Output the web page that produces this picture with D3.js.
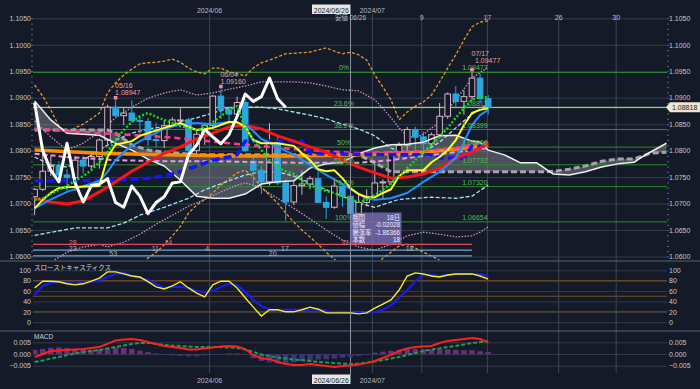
<!DOCTYPE html>
<html>
<head>
<meta charset="utf-8">
<script src="https://cdnjs.cloudflare.com/ajax/libs/d3/7.8.5/d3.min.js"></script>
<style>
  body { margin: 0; background: #141a28; }
  svg { display: block; }
  text { font-family: "Liberation Sans", "Noto Sans CJK JP", sans-serif; }
</style>
</head>
<body>
<div id="chart"></div>
<script>
// ---- data (bar index 0 = first candle) ----
var opens = [1.0713,1.0727,1.0761,1.0770,1.0754,1.0749,1.0782,1.0771,1.0789,1.0820,1.0882,1.0866,1.0871,1.0857,1.0855,1.0821,1.0819,1.0847,1.0858,1.0858,1.0800,1.0831,1.0848,1.0903,1.0877,1.0869,1.0891,1.0780,1.0763,1.0741,1.0814,1.0739,1.0703,1.0734,1.0737,1.0747,1.0702,1.0693,1.0733,1.0714,1.0681,1.0702,1.0713,1.0739,1.0741,1.0792,1.0810,1.0840,1.0826,1.0813,1.0830,1.0865,1.0907,1.0893,1.0902,1.0937,1.0898];
var highs = [1.0729,1.0812,1.0790,1.0780,1.0765,1.0790,1.0790,1.0798,1.0823,1.0887,1.0895,1.0882,1.0895,1.0866,1.0862,1.0853,1.0858,1.0863,1.0880,1.0862,1.0838,1.0852,1.0905,1.0916,1.0882,1.0902,1.0897,1.0790,1.0771,1.0852,1.0826,1.0746,1.0742,1.0762,1.0752,1.0760,1.0714,1.0748,1.0737,1.0721,1.0720,1.0727,1.0776,1.0746,1.0799,1.0816,1.0845,1.0845,1.0836,1.0834,1.0890,1.0910,1.0922,1.0914,1.0948,1.0945,1.0905];
var lows = [1.0678,1.0724,1.0752,1.0747,1.0724,1.0724,1.0757,1.0765,1.0766,1.0812,1.0862,1.0848,1.0853,1.0832,1.0809,1.0806,1.0805,1.0846,1.0846,1.0789,1.0788,1.0811,1.0841,1.0860,1.0852,1.0860,1.0797,1.0732,1.0718,1.0734,1.0735,1.0668,1.0697,1.0717,1.0727,1.0701,1.0671,1.0690,1.0694,1.0666,1.0678,1.0695,1.0709,1.0710,1.0735,1.0785,1.0796,1.0790,1.0797,1.0806,1.0827,1.0860,1.0880,1.0868,1.0895,1.0889,1.0868];
var closes = [1.0727,1.0761,1.0770,1.0754,1.0749,1.0782,1.0771,1.0789,1.0820,1.0882,1.0866,1.0871,1.0857,1.0855,1.0821,1.0819,1.0847,1.0858,1.0858,1.0800,1.0831,1.0848,1.0903,1.0877,1.0869,1.0891,1.0800,1.0763,1.0741,1.0814,1.0739,1.0703,1.0734,1.0737,1.0747,1.0702,1.0693,1.0733,1.0714,1.0681,1.0702,1.0713,1.0739,1.0741,1.0792,1.0810,1.0840,1.0826,1.0813,1.0830,1.0865,1.0907,1.0893,1.0902,1.0937,1.0898,1.0882];

// lines as [bar index, price]
var tenkanLine = [[0,1.0691],[1,1.0707],[2,1.0720],[3,1.0729],[4,1.0731],[8,1.0733],[9,1.0788],[10,1.0811],[12,1.0818],[13,1.0828],[14,1.0833],[16,1.0843],[18,1.0852],[19,1.0845],[20,1.0839],[22,1.0843],[24,1.0854],[25,1.0854],[26,1.0845],[27,1.0820],[28,1.0814],[30,1.0814],[32,1.0809],[33,1.0795],[34,1.0782],[35,1.0765],[36,1.0761],[37,1.0763],[38,1.0748],[39,1.0729],[40,1.0718],[41,1.0712],[42,1.0712],[43,1.0720],[44,1.0727],[45,1.0752],[46,1.0763],[48,1.0763],[49,1.0778],[50,1.0788],[51,1.0801],[52,1.0820],[53,1.0848],[54,1.0871],[55,1.0877],[56,1.0880]];
var blueLine = [[0,1.0691],[2,1.0708],[4,1.0722],[6,1.0733],[8,1.0743],[9,1.0760],[10,1.0782],[11,1.0797],[12,1.0809],[14,1.0826],[16,1.0841],[18,1.0850],[20,1.0852],[22,1.0850],[24,1.0854],[26,1.0850],[27,1.0837],[28,1.0822],[30,1.0807],[32,1.0792],[34,1.0773],[36,1.0754],[38,1.0737],[40,1.0718],[41,1.0710],[42,1.0707],[44,1.0710],[46,1.0720],[48,1.0741],[50,1.0760],[52,1.0786],[53,1.0816],[54,1.0848],[55,1.0867],[56,1.0877]];
var redLine = [[0,1.0710],[2,1.0703],[4,1.0699],[6,1.0705],[8,1.0722],[10,1.0741],[12,1.0761],[14,1.0778],[16,1.0795],[18,1.0807],[20,1.0822],[22,1.0833],[24,1.0845],[26,1.0848],[28,1.0841],[30,1.0828],[32,1.0818],[34,1.0807],[36,1.0797],[38,1.0782],[40,1.0769],[42,1.0758],[44,1.0748],[46,1.0750],[48,1.0756],[50,1.0767],[52,1.0786],[54,1.0797],[56,1.0814]];
var orangeLine = [[0,1.0801],[8,1.0795],[16,1.0792],[24,1.0790],[32,1.0790],[40,1.0792],[48,1.0797],[52,1.0803],[56,1.0811]];
var magentaLine = [[0,1.0841],[8,1.0833],[16,1.0826],[24,1.0814],[32,1.0803],[40,1.0795],[48,1.0799],[52,1.0805],[56,1.0816]];
var lavenderLine = [[0,1.0794],[4,1.0788],[10,1.0782],[16,1.0780],[22,1.0780],[28,1.0778],[34,1.0777],[40,1.0777],[44,1.0782],[48,1.0790],[52,1.0797],[56,1.0805]];
var kijunLine = [[0,1.0743],[10,1.0744],[14,1.0748],[16,1.0752],[18,1.0760],[20,1.0771],[22,1.0782],[24,1.0788],[25,1.0792],[26,1.0818],[33,1.0818],[34,1.0794],[49,1.0792],[50,1.0786],[53,1.0786],[54,1.0809],[56,1.0809]];
var spanA = [[0,1.0894],[2,1.0858],[4,1.0833],[6,1.0831],[8,1.0829],[10,1.0814],[12,1.0801],[14,1.0784],[16,1.0771],[18,1.0744],[20,1.0714],[22,1.0710],[24,1.0710],[26,1.0718],[28,1.0737],[30,1.0741],[32,1.0743],[34,1.0767],[36,1.0775],[38,1.0778],[40,1.0794],[42,1.0805],[44,1.0811],[46,1.0812],[48,1.0816],[50,1.0828],[52,1.0829],[54,1.0818],[55,1.0816],[56,1.0801],[58,1.0792],[60,1.0777],[62,1.0777],[64,1.0756],[66,1.0754],[68,1.0760],[70,1.0769],[72,1.0775],[74,1.0778],[75,1.0788],[76,1.0797],[78,1.0814]];
var spanB = [[0,1.0839],[9,1.0839],[10,1.0833],[12,1.0811],[14,1.0801],[16,1.0797],[18,1.0795],[20,1.0792],[40,1.0792],[42,1.0777],[44,1.0760],[63,1.0760],[64,1.0761],[66,1.0765],[68,1.0771],[70,1.0780],[72,1.0784],[74,1.0784],[76,1.0795],[78,1.0797]];
var laggingSpan = [1.0891,1.0800,1.0763,1.0741,1.0814,1.0739,1.0703,1.0734,1.0737,1.0747,1.0702,1.0693,1.0733,1.0714,1.0681,1.0702,1.0713,1.0739,1.0741,1.0792,1.0810,1.0840,1.0826,1.0813,1.0830,1.0865,1.0907,1.0893,1.0902,1.0937,1.0898,1.0882];
var sarValues = [1.0707,1.0710,1.0718,1.0726,1.0733,1.0743,1.0752,1.0763,1.0778,1.0797,1.0820,1.0839,1.0854,1.0865,1.0871,1.0864,1.0858,1.0852,1.0846,1.0843,1.0839,1.0843,1.0854,1.0865,1.0877,1.0884,1.0843,1.0820,1.0801,1.0782,1.0769,1.0761,1.0756,1.0744,1.0735,1.0729,1.0724,1.0720,1.0714,1.0708,1.0703,1.0707,1.0716,1.0726,1.0739,1.0752,1.0767,1.0782,1.0797,1.0811,1.0826,1.0843,1.0862,1.0880,1.0896,1.0901,1.0901];

var bandUp3 = [[0,1.0924],[1,1.0903],[2,1.0877],[3,1.0846],[4,1.0833],[5,1.0843],[6,1.0850],[7,1.0860],[8,1.0871],[9,1.0909],[10,1.0928],[11,1.0943],[12,1.0954],[13,1.0964],[14,1.0966],[15,1.0967],[16,1.0969],[17,1.0973],[18,1.0967],[19,1.0956],[20,1.0949],[21,1.0945],[22,1.0956],[23,1.0956],[24,1.0949],[25,1.0945],[26,1.0941],[27,1.0956],[28,1.0966],[29,1.0971],[30,1.0977],[31,1.0983],[32,1.0984],[34,1.0986],[35,1.0990],[36,1.0994],[37,1.0988],[38,1.0983],[39,1.0986],[40,1.0981],[41,1.0971],[42,1.0943],[43,1.0920],[44,1.0896],[45,1.0858],[46,1.0873],[47,1.0884],[48,1.0892],[49,1.0905],[50,1.0930],[51,1.0956],[52,1.0981],[53,1.1009],[54,1.1034],[55,1.1043],[56,1.1045]];
var bandLo3 = [[12,1.0571],[13,1.0584],[14,1.0597],[15,1.0608],[16,1.0622],[17,1.0639],[18,1.0657],[19,1.0682],[20,1.0697],[21,1.0708],[22,1.0720],[23,1.0735],[24,1.0746],[25,1.0758],[26,1.0763],[27,1.0750],[28,1.0731],[29,1.0716],[30,1.0701],[31,1.0682],[32,1.0665],[33,1.0650],[34,1.0637],[35,1.0623],[36,1.0608],[37,1.0595],[38,1.0582],[39,1.0571],[40,1.0563],[41,1.0563],[42,1.0578],[43,1.0597],[44,1.0608],[45,1.0620],[46,1.0623],[47,1.0616],[48,1.0608],[49,1.0601],[50,1.0593],[52,1.0574],[54,1.0555],[56,1.0540]];
var bandUp2 = [[0,1.0856],[2,1.0826],[4,1.0801],[6,1.0814],[8,1.0835],[10,1.0862],[12,1.0882],[14,1.0899],[16,1.0909],[18,1.0915],[20,1.0905],[22,1.0909],[24,1.0916],[26,1.0922],[28,1.0930],[32,1.0930],[34,1.0928],[36,1.0922],[38,1.0915],[40,1.0913],[42,1.0896],[43,1.0880],[44,1.0862],[45,1.0843],[46,1.0828],[47,1.0824],[48,1.0831],[50,1.0854],[51,1.0877],[52,1.0896],[54,1.0937],[56,1.0958]];
var bandLo2 = [[0,1.0584],[2,1.0589],[4,1.0608],[6,1.0618],[8,1.0623],[9,1.0618],[11,1.0627],[13,1.0642],[15,1.0661],[17,1.0678],[19,1.0695],[21,1.0708],[23,1.0722],[25,1.0735],[26,1.0739],[27,1.0735],[28,1.0729],[30,1.0710],[32,1.0691],[34,1.0671],[36,1.0650],[38,1.0631],[40,1.0618],[42,1.0612],[44,1.0623],[46,1.0639],[48,1.0646],[50,1.0642],[52,1.0637],[54,1.0639],[55,1.0646],[56,1.0656]];
var bandUp1 = [[0,1.0788],[2,1.0773],[4,1.0769],[6,1.0782],[8,1.0801],[10,1.0820],[12,1.0833],[14,1.0841],[16,1.0845],[18,1.0854],[20,1.0862],[22,1.0871],[24,1.0880],[26,1.0882],[28,1.0882],[30,1.0879],[32,1.0873],[34,1.0867],[36,1.0860],[38,1.0850],[40,1.0841],[42,1.0828],[44,1.0805],[46,1.0792],[48,1.0797],[50,1.0816],[52,1.0843],[54,1.0869],[56,1.0888]];
var bandLo1 = [[0,1.0640],[5,1.0654],[9,1.0654],[11,1.0663],[13,1.0678],[16,1.0693],[19,1.0710],[21,1.0726],[24,1.0743],[26,1.0754],[28,1.0760],[30,1.0760],[32,1.0752],[34,1.0739],[36,1.0726],[38,1.0714],[40,1.0701],[42,1.0693],[45,1.0708],[49,1.0712],[52,1.0710],[54,1.0714],[56,1.0735]];

var fibNames = ["0%", "23.6%", "38.2%", "50%", "61.8%", "76.4%", "100%"];
var fibLevels = [1.09477, 1.08811, 1.08399, 1.08066, 1.07732, 1.07320, 1.06654];

var markIdx = [10, 23, 54];
var markDates = ["05/16", "06/04", "07/17"];
var markValues = [1.08947, 1.09160, 1.09477];

var countLabels = ["28", "14", "32", "23", "11", "4", "17", "18", "53", "20"];
var countIdx = [4.7, 16.5, 38.3, 4.7, 14.9, 21.3, 30.9, 46.3, 9.7, 29.4];
var countRow = [0, 0, 0, 1, 1, 1, 1, 1, 2, 2];
var countLevels = [1.0623, 1.0612, 1.0601];

var stochK = [66,79,79,78,74,72,74,79,85,97,97,93,89,87,78,68,64,70,78,66,56,49,72,79,79,66,47,29,12,24,24,20,20,24,29,25,18,18,18,18,16,18,27,35,43,62,89,95,93,89,87,91,93,93,93,89,83];
var stochD = [52,70,76,78,76,74,76,78,81,87,93,95,89,85,81,74,66,68,68,66,60,58,60,68,74,72,58,43,31,25,22,24,24,24,24,25,22,18,18,18,18,18,20,24,33,47,62,79,91,91,89,91,93,93,93,93,89];

var macdLine = [-0.0013,0.0000,0.0013,0.0015,0.0017,0.0019,0.0021,0.0026,0.0030,0.0043,0.0058,0.0062,0.0064,0.0060,0.0051,0.0043,0.0034,0.0030,0.0026,0.0019,0.0019,0.0024,0.0028,0.0032,0.0034,0.0032,0.0021,-0.0004,-0.0019,-0.0021,-0.0034,-0.0043,-0.0047,-0.0047,-0.0043,-0.0047,-0.0051,-0.0056,-0.0051,-0.0049,-0.0045,-0.0039,-0.0030,-0.0017,-0.0004,0.0013,0.0024,0.0030,0.0032,0.0034,0.0047,0.0056,0.0060,0.0064,0.0068,0.0064,0.0051];
var signalLine = [-0.0034,-0.0028,-0.0019,-0.0013,-0.0004,0.0002,0.0009,0.0013,0.0017,0.0024,0.0030,0.0036,0.0043,0.0047,0.0047,0.0043,0.0039,0.0036,0.0034,0.0032,0.0030,0.0030,0.0030,0.0030,0.0028,0.0026,0.0019,0.0009,-0.0002,-0.0009,-0.0015,-0.0019,-0.0024,-0.0026,-0.0030,-0.0034,-0.0036,-0.0039,-0.0041,-0.0043,-0.0041,-0.0036,-0.0032,-0.0026,-0.0019,-0.0013,-0.0004,0.0004,0.0013,0.0019,0.0024,0.0030,0.0034,0.0041,0.0047,0.0051,0.0053];
var macdHist = [0.0018,0.0022,0.0026,0.0028,0.0026,0.0022,0.0020,0.0018,0.0020,0.0024,0.0028,0.0026,0.0022,0.0014,0.0008,0.0002,-0.0004,-0.0006,-0.0008,-0.0010,-0.0010,-0.0006,-0.0004,-0.0002,0.0002,0.0002,-0.0002,-0.0018,-0.0030,-0.0036,-0.0040,-0.0040,-0.0036,-0.0032,-0.0028,-0.0024,-0.0022,-0.0020,-0.0016,-0.0012,-0.0008,-0.0004,0.0006,0.0010,0.0014,0.0018,0.0022,0.0022,0.0020,0.0018,0.0020,0.0020,0.0018,0.0016,0.0016,0.0012,0.0008];

var priceTicks = [1.060, 1.065, 1.070, 1.075, 1.080, 1.085, 1.090, 1.095, 1.100, 1.105];
var stochTicks = [0, 20, 40, 60, 80, 100];
var stochLevels = [20, 50, 80];
var macdTicks = [-0.005, 0, 0.005];
var dateTickIdx = [21.6, 41.7, 47.8, 55.9, 64.7, 71.8];
var dateTickLabels = ["2024/06", "2024/07", "9", "17", "26", "30"];
var lastPrice = 1.08818;
var crossIdx = 39;

// Step 1: set up the svg
var svgWidth = 700, svgHeight = 389;
var plotLeft = 33, plotRight = 667;
var bg = "#141a28";

var svg = d3.select("#chart").append("svg")
  .attr("width", svgWidth)
  .attr("height", svgHeight);
svg.append("rect").attr("width", svgWidth).attr("height", svgHeight).attr("fill", bg);

// Step 2: scales
var x = d3.scaleLinear().domain([0, 56]).range([34.6, 488.2]);
var y = d3.scaleLinear().domain([1.06, 1.105]).range([256.5, 18.3]);
var yS = d3.scaleLinear().domain([0, 100]).range([322.2, 270.3]);
var yM = d3.scaleLinear().domain([-0.005, 0.005]).range([365.7, 342.3]);

svg.append("clipPath").attr("id", "mainClip")
  .append("rect").attr("x", plotLeft).attr("y", 12).attr("width", plotRight - plotLeft).attr("height", 248);
svg.append("clipPath").attr("id", "macdClip")
  .append("rect").attr("x", plotLeft).attr("y", 332).attr("width", plotRight - plotLeft).attr("height", 40);

// Step 3: grid lines through axes
function styleAxis(g, color) {
  g.select(".domain").remove();
  g.selectAll("line").attr("stroke", color);
  g.selectAll("text").attr("fill", "#c4c8d0").attr("font-size", "7px")
    .attr("font-family", "Liberation Sans, sans-serif");
}
function hGrid(scale, ticks) {
  svg.append("g").attr("transform", `translate(${plotLeft},0)`)
    .call(d3.axisLeft(scale).tickValues(ticks).tickSize(-(plotRight - plotLeft)).tickFormat(""))
    .call(g => styleAxis(g, "#323a4a"));
}
hGrid(y, priceTicks);
hGrid(yS, stochTicks);
hGrid(yM, macdTicks);

// stochastic reference levels
svg.append("g").selectAll("line").data(stochLevels).enter().append("line")
  .attr("x1", plotLeft).attr("x2", plotRight)
  .attr("y1", d => yS(d)).attr("y2", d => yS(d))
  .attr("stroke", "#7a4a22").attr("stroke-width", 1);

// vertical date lines
svg.append("g").selectAll("line").data(dateTickIdx).enter().append("line")
  .attr("x1", d => x(d)).attr("x2", d => x(d))
  .attr("y1", 14).attr("y2", 373)
  .attr("stroke", "#3e4657").attr("stroke-width", 1);

// panel separators
[261, 331].forEach(function (py) {
  svg.append("line").attr("x1", 0).attr("x2", svgWidth).attr("y1", py).attr("y2", py)
    .attr("stroke", "#5a6070").attr("stroke-width", 1);
});

// Step 4: axis labels
function labelAxes(scale, ticks, fmt) {
  svg.append("g").attr("transform", `translate(${plotLeft - 1},0)`)
    .call(d3.axisLeft(scale).tickValues(ticks).tickSize(0).tickPadding(1).tickFormat(fmt))
    .call(g => styleAxis(g, "none"));
  svg.append("g").attr("transform", `translate(${plotRight + 1},0)`)
    .call(d3.axisRight(scale).tickValues(ticks).tickSize(0).tickPadding(1).tickFormat(fmt))
    .call(g => styleAxis(g, "none"));
}
labelAxes(y, priceTicks, d3.format(".4f"));
labelAxes(yS, stochTicks, d3.format("d"));
labelAxes(yM, macdTicks, d3.format(".3f"));

// minor price ticks
var minorTicks = d3.range(1.060, 1.1055, 0.001);
svg.append("g").attr("transform", `translate(${plotLeft},0)`)
  .call(d3.axisLeft(y).tickValues(minorTicks).tickSize(2).tickFormat(""))
  .call(g => styleAxis(g, "#5a6272"));
svg.append("g").attr("transform", `translate(${plotRight},0)`)
  .call(d3.axisRight(y).tickValues(minorTicks).tickSize(2).tickFormat(""))
  .call(g => styleAxis(g, "#5a6272"));

// Step 5: main panel content
var mainG = svg.append("g").attr("clip-path", "url(#mainClip)");
var line = d3.line().x(d => x(d[0])).y(d => y(d[1]));

// cloud fill between span A and span B
var backB = spanB.slice().reverse();
var cloudPath = line(spanA) + "L" + line(backB).slice(1) + "Z";
mainG.append("path").attr("d", cloudPath)
  .attr("fill", "#9a9ca6").attr("fill-opacity", 0.42).attr("fill-rule", "nonzero");

function drawLine(g, pts, color, width, dash) {
  g.append("path").datum(pts)
    .attr("fill", "none").attr("stroke", color).attr("stroke-width", width)
    .attr("stroke-dasharray", dash || null)
    .attr("stroke-linejoin", "round")
    .attr("d", line);
}

// fib lines
mainG.append("g").selectAll("line").data(fibLevels).enter().append("line")
  .attr("x1", plotLeft).attr("x2", plotRight)
  .attr("y1", d => y(d)).attr("y2", d => y(d))
  .attr("stroke", "#2f8a2f").attr("stroke-width", 1);

// bands
drawLine(mainG, bandUp3, "#e39a2c", 1.3, "3,2");
drawLine(mainG, bandLo3, "#e39a2c", 1.3, "3,2");
drawLine(mainG, bandUp2, "#c991c4", 1.3, "1.5,1.5");
drawLine(mainG, bandLo2, "#c991c4", 1.3, "1.5,1.5");
drawLine(mainG, bandUp1, "#a6e2f2", 1.3, "4,2");
drawLine(mainG, bandLo1, "#a6e2f2", 1.3, "4,2");

// current price line
mainG.append("line").attr("x1", plotLeft).attr("x2", plotRight)
  .attr("y1", y(lastPrice)).attr("y2", y(lastPrice))
  .attr("stroke", "#c8ccc0").attr("stroke-width", 1);

// count rows near the bottom
var rowColors = ["#d84a5c", "#6aa4d4", "#6aa4d4"];
mainG.append("g").selectAll("line").data(countLevels).enter().append("line")
  .attr("x1", plotLeft).attr("x2", x(54))
  .attr("y1", d => y(d)).attr("y2", d => y(d))
  .attr("stroke", (d, i) => rowColors[i]).attr("stroke-width", 1.2);

// candles
var idx = d3.range(closes.length);
var upCol = "#d2b4c4", downCol = "#2ba6df";
var candles = mainG.append("g").selectAll("g").data(idx).enter().append("g");
candles.append("line")
  .attr("x1", i => x(i)).attr("x2", i => x(i))
  .attr("y1", i => y(highs[i])).attr("y2", i => y(lows[i]))
  .attr("stroke", i => closes[i] >= opens[i] ? upCol : downCol).attr("stroke-width", 1);
candles.append("rect")
  .attr("x", i => x(i) - 2.8).attr("width", 5.6)
  .attr("y", i => y(Math.max(opens[i], closes[i])))
  .attr("height", i => Math.max(1, Math.abs(y(opens[i]) - y(closes[i]))))
  .attr("fill", i => closes[i] >= opens[i] ? bg : downCol)
  .attr("stroke", i => closes[i] >= opens[i] ? upCol : downCol).attr("stroke-width", 1);

// ichimoku spans and averages
drawLine(mainG, spanB, "#a4a4a8", 3, "6,3");
drawLine(mainG, spanA, "#f0f0f0", 1.5);
drawLine(mainG, lavenderLine, "#e69ae6", 2, "5,3");
drawLine(mainG, orangeLine, "#ff8a00", 3.5);
drawLine(mainG, magentaLine, "#ff3c8c", 2.5, "6,4");
drawLine(mainG, kijunLine, "#1414ff", 3.5, "8,4");
drawLine(mainG, redLine, "#ff1414", 3);
drawLine(mainG, blueLine, "#1e90ff", 2);
drawLine(mainG, tenkanLine, "#ffff1e", 2);
drawLine(mainG, laggingSpan.map((v, i) => [i, v]), "#ffffff", 3);
drawLine(mainG, sarValues.map((v, i) => [i, v]), "#10e010", 2.4, "2,2");

// fib labels
var fibG = svg.append("g").attr("font-size", "7px").attr("fill", "#4cc04c");
fibG.selectAll("text.pct").data(fibLevels).enter().append("text")
  .attr("x", x(38.2)).attr("y", d => y(d) - 2).attr("text-anchor", "middle")
  .text((d, i) => fibNames[i]);
fibG.selectAll("text.val").data(fibLevels).enter().append("text")
  .attr("x", x(52.8)).attr("y", d => y(d) - 2)
  .text(d => d3.format(".5f")(d));

// high markers
var markG = svg.append("g").attr("font-size", "7px").attr("fill", "#e8a0a8");
markIdx.forEach(function (mi, k) {
  var top = k === 2 ? 4 : 0;
  markG.append("rect").attr("x", x(mi) - 1.8).attr("y", y(markValues[k]) - 4.5)
    .attr("width", 3.6).attr("height", 3.6).attr("fill", "#f08a9a");
  markG.append("text").attr("x", x(mi) - 0.5).attr("y", y(markValues[k]) - 12.5 - top).text(markDates[k]);
  markG.append("text").attr("x", x(mi) + (k === 2 ? 3 : -0.5)).attr("y", y(markValues[k]) - 5.5 - top).text(d3.format(".5f")(markValues[k]));
});

// count labels
svg.append("g").attr("font-size", "7px").selectAll("text").data(countLabels).enter().append("text")
  .attr("x", (d, i) => x(countIdx[i])).attr("y", (d, i) => y(countLevels[countRow[i]]) + 0.5)
  .attr("text-anchor", "middle")
  .attr("fill", (d, i) => countRow[i] === 0 ? "#e0707c" : "#a8b4c8")
  .text(d => d);

// crosshair
svg.append("line").attr("x1", x(crossIdx)).attr("x2", x(crossIdx)).attr("y1", 14).attr("y2", 375)
  .attr("stroke", "#8a92a2").attr("stroke-width", 1);

// range tooltip
var tipNames = ["期間", "値幅", "騰落率", "本数"];
var tipValues = ["18日", "-0.02028", "-1.86366", "18"];
var tipG = svg.append("g").attr("transform", `translate(${x(crossIdx)},212.5)`);
tipG.append("rect").attr("width", 51).attr("height", 31.5).attr("fill", "#7a6cb2").attr("fill-opacity", 0.82);
tipNames.forEach(function (t, k) {
  tipG.append("text").attr("x", 2).attr("y", 7 + k * 7.6).attr("font-size", "6.3px").attr("fill", "#f0ecff").text(t);
  tipG.append("text").attr("x", 49.5).attr("y", 7 + k * 7.6).attr("font-size", "6.3px").attr("fill", "#f0ecff")
    .attr("text-anchor", "end").text(tipValues[k]);
});

// last price tag
var tagY = y(lastPrice);
svg.append("path")
  .attr("d", `M${plotRight - 1},${tagY} L${plotRight + 3},${tagY - 5} L${svgWidth},${tagY - 5} L${svgWidth},${tagY + 5} L${plotRight + 3},${tagY + 5} Z`)
  .attr("fill", "#efe6d2");
svg.append("text").attr("x", plotRight + 5).attr("y", tagY + 2.5).attr("font-size", "7px").attr("fill", "#222")
  .text(d3.format(".5f")(lastPrice));

// Step 6: date labels top and bottom
var dateG = svg.append("g").attr("font-size", "7px").attr("fill", "#b8bcc6").attr("text-anchor", "middle");
dateTickLabels.forEach(function (t, k) {
  var isMonth = t.length > 3;
  dateG.append("text").attr("x", x(dateTickIdx[k])).attr("y", isMonth ? 12.5 : 19.5).text(t);
  if (isMonth) dateG.append("text").attr("x", x(dateTickIdx[k])).attr("y", 382.5).text(t);
});
dateG.append("text").attr("x", x(crossIdx)).attr("y", 19.5).attr("font-size", "6.5px").text("安値 06/26");
[[4.5, 12.5], [374.5, 382.5]].forEach(function (p) {
  svg.append("rect").attr("x", x(crossIdx) - 38.5).attr("y", p[0]).attr("width", 38.5).attr("height", 9.5).attr("fill", "#e6e6e6");
  svg.append("text").attr("x", x(crossIdx) - 19.2).attr("y", p[1]).attr("text-anchor", "middle")
    .attr("font-size", "7px").attr("fill", "#222").text("2024/06/26");
});

// Step 7: stochastics panel
var sLine = d3.line().x((d, i) => x(i)).y(d => yS(d));
svg.append("path").datum(stochD).attr("fill", "none").attr("stroke", "#1a1aff").attr("stroke-width", 2).attr("d", sLine);
svg.append("path").datum(stochK).attr("fill", "none").attr("stroke", "#f4f020").attr("stroke-width", 1.4).attr("d", sLine);
svg.append("text").attr("x", plotLeft + 1).attr("y", 269.5).attr("font-size", "6.5px").attr("fill", "#d4d4d4").text("スローストキャスティクス");

// Step 8: MACD panel
var macdG = svg.append("g").attr("clip-path", "url(#macdClip)");
macdG.selectAll("rect").data(macdHist).enter().append("rect")
  .attr("x", (d, i) => x(i) - 2.8).attr("width", 5.6)
  .attr("y", d => Math.min(yM(0), yM(d)))
  .attr("height", d => Math.abs(yM(d) - yM(0)))
  .attr("fill", d => d >= 0 ? "#6e2c7c" : "#3b3676");
var mLine = d3.line().x((d, i) => x(i)).y(d => yM(d));
macdG.append("path").datum(signalLine).attr("fill", "none").attr("stroke", "#1f9a5a").attr("stroke-width", 2)
  .attr("stroke-dasharray", "4,2").attr("d", mLine);
macdG.append("path").datum(macdLine).attr("fill", "none").attr("stroke", "#ff2020").attr("stroke-width", 2).attr("d", mLine);
svg.append("text").attr("x", plotLeft + 1).attr("y", 339).attr("font-size", "6.5px").attr("fill", "#d4d4d4").text("MACD");
</script>
</body>
</html>
